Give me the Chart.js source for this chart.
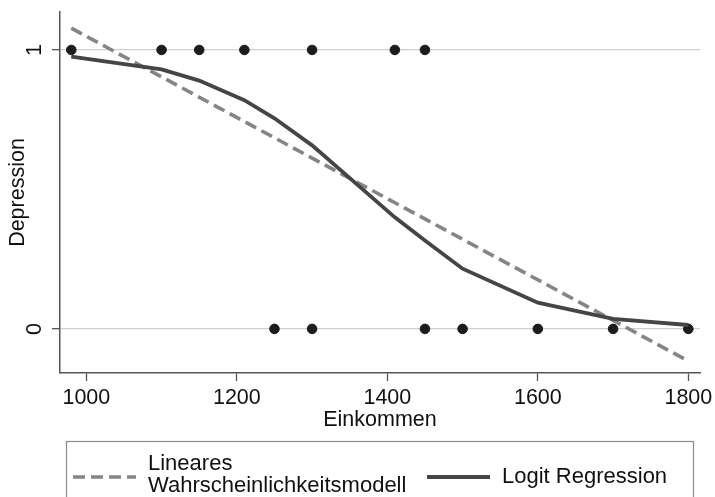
<!DOCTYPE html>
<html>
<head>
<meta charset="utf-8">
<script src="https://cdn.jsdelivr.net/npm/chart.js@4/dist/chart.umd.min.js"></script>
<style>
  body { margin: 0; background: #fff; }
  #chart { display: block; }
</style>
</head>
<body>
<canvas id="chart" width="715" height="497"></canvas>
<script>
// observed data (income, depression 0/1)
const obsIncome = [980, 1100, 1150, 1210, 1300, 1410, 1450, 1250, 1300, 1450, 1500, 1600, 1700, 1800];
const obsDepression = [1, 1, 1, 1, 1, 1, 1, 0, 0, 0, 0, 0, 0, 0];

// linear probability model (straight line)
const linearIncome = [980, 1800];
const linearFit = [1.078, -0.115];

// logit predictions
const logitIncome = [980, 1100, 1150, 1210, 1250, 1300, 1410, 1450, 1500, 1600, 1700, 1800];
const logitFit = [0.976, 0.93, 0.89, 0.82, 0.755, 0.658, 0.40, 0.317, 0.216, 0.094, 0.036, 0.014];

const xTicks = [1000, 1200, 1400, 1600, 1800];
const yTicks = [0, 1];

const legendLabels = [["Lineares", "Wahrscheinlichkeitsmodell"], ["Logit Regression"]];

const toPoints = (xs, ys) => xs.map((x, i) => ({ x: x, y: ys[i] }));

const FONT = "'Liberation Sans', Arial, sans-serif";
const textColor = "#111";
const axisColor = "#555";

// legend box below the plot (drawn by hand, labels have two lines)
const boxLegend = {
  id: "boxLegend",
  afterDraw(chart) {
    const ctx = chart.ctx;
    const sets = chart.data.datasets.filter((d) => d.legend);
    const top = 441;
    const mid = 477;
    ctx.save();
    ctx.strokeStyle = "#8c8c8c";
    ctx.lineWidth = 1.2;
    ctx.strokeRect(66.5, top + 0.5, 627, 80);

    const cols = [{ x: 73, text: 148 }, { x: 427, text: 502 }];
    sets.forEach((d, i) => {
      const c = cols[i];
      ctx.beginPath();
      ctx.strokeStyle = d.borderColor;
      ctx.lineWidth = d.borderWidth;
      ctx.setLineDash(d.borderDash || []);
      ctx.moveTo(c.x, mid);
      ctx.lineTo(c.x + 63, mid);
      ctx.stroke();
      ctx.setLineDash([]);

      ctx.fillStyle = textColor;
      ctx.font = "22px " + FONT;
      ctx.textBaseline = "middle";
      ctx.textAlign = "left";
      const lines = legendLabels[i];
      if (lines.length === 1) {
        ctx.fillText(lines[0], c.text, mid);
      } else {
        ctx.fillText(lines[0], c.text, 464);
        ctx.fillText(lines[1], c.text, 486);
      }
    });
    ctx.restore();
  },
};

new Chart(document.getElementById("chart"), {
  type: "scatter",
  data: {
    datasets: [
      {
        label: "Beobachtungen",
        data: toPoints(obsIncome, obsDepression),
        backgroundColor: "#1c1c1c",
        borderColor: "#1c1c1c",
        pointRadius: 4.8,
        pointHoverRadius: 4.8,
        order: 3,
      },
      {
        label: legendLabels[0].join(" "),
        legend: true,
        type: "line",
        data: toPoints(linearIncome, linearFit),
        borderColor: "#858585",
        borderWidth: 3.6,
        borderDash: [12, 6],
        pointRadius: 0,
        fill: false,
        order: 2,
      },
      {
        label: legendLabels[1][0],
        legend: true,
        type: "line",
        data: toPoints(logitIncome, logitFit),
        borderColor: "#454545",
        borderWidth: 3.8,
        pointRadius: 0,
        tension: 0,
        fill: false,
        order: 1,
      },
    ],
  },
  options: {
    responsive: false,
    devicePixelRatio: 1,
    animation: false,
    layout: { padding: { top: 12, right: 15, bottom: 64, left: 0 } },
    plugins: {
      legend: { display: false },
      tooltip: { enabled: false },
    },
    scales: {
      x: {
        type: "linear",
        min: 965,
        max: 1815.5,
        afterBuildTicks: (s) => { s.ticks = xTicks.map((v) => ({ value: v })); },
        afterFit: (s) => { s.height = 60; s.paddingLeft = 0; s.paddingRight = 0; },
        grid: {
          drawOnChartArea: false,
          drawTicks: true,
          tickLength: 8,
          tickColor: axisColor,
          tickWidth: 1.3,
        },
        border: { color: axisColor, width: 1.5 },
        ticks: {
          font: { family: FONT, size: 21.5 },
          color: textColor,
          padding: 4,
          maxRotation: 0,
          callback: (v) => String(v),
        },
        title: {
          display: true,
          text: "Einkommen",
          font: { family: FONT, size: 21.5 },
          color: textColor,
          padding: { top: 0, bottom: 0 },
        },
      },
      y: {
        min: -0.158,
        max: 1.136,
        afterBuildTicks: (s) => { s.ticks = yTicks.map((v) => ({ value: v })); },
        afterFit: (s) => { s.width = 60; s.paddingTop = 0; s.paddingBottom = 0; },
        grid: {
          color: "#cfcfcf",
          lineWidth: 1.3,
          drawTicks: true,
          tickLength: 8,
          tickColor: axisColor,
          tickWidth: 1.3,
        },
        border: { color: axisColor, width: 1.5 },
        ticks: {
          font: { family: FONT, size: 21.5 },
          color: textColor,
          minRotation: 90,
          maxRotation: 90,
          crossAlign: "center",
          padding: 11,
          callback: (v) => String(v),
        },
        title: {
          display: true,
          text: "Depression",
          font: { family: FONT, size: 21.5 },
          color: textColor,
          padding: { top: 5, bottom: 0 },
        },
      },
    },
  },
  plugins: [boxLegend],
});
</script>
</body>
</html>
